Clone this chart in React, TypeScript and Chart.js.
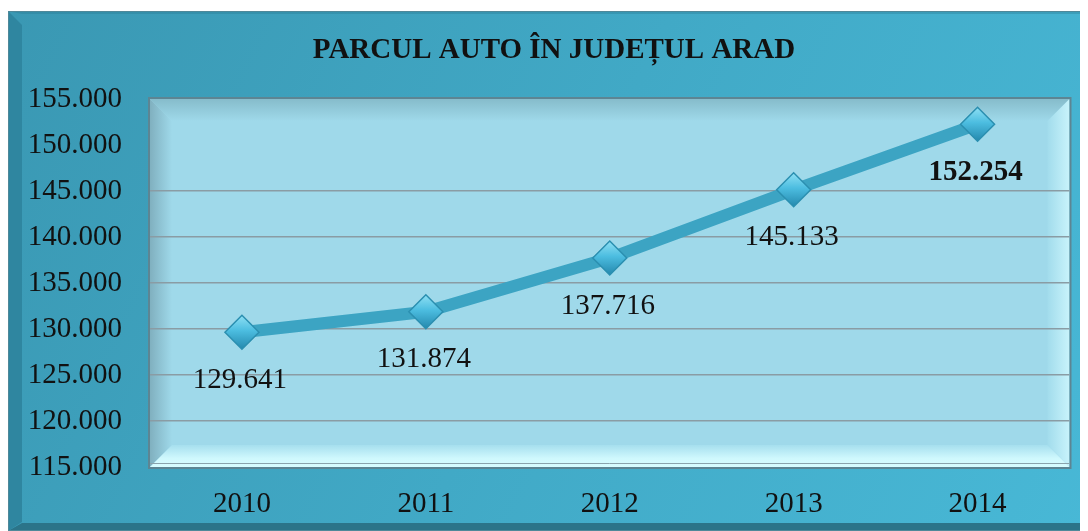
import React, { useEffect, useRef } from "react";
import { Chart, registerables } from "chart.js";

Chart.register(...registerables);

const TITLE = "PARCUL AUTO ÎN JUDEȚUL ARAD";
const YEARS = ["2010", "2011", "2012", "2013", "2014"];
const VEHICLES = [129641, 131874, 137716, 145133, 152254];
const Y_MIN = 115000;
const Y_MAX = 155000;
const Y_STEP = 5000;
const HIDDEN_GRID = [115000, 150000, 155000];

const FONT = "'Liberation Serif', 'Times New Roman', serif";

function fmt(v: number): string {
  const s = Math.round(v).toString();
  return s.replace(/\B(?=(\d{3})+(?!\d))/g, ".");
}

const backgroundPlugin = {
  id: "bgFrame",
  beforeDraw(chart: any) {
    const { ctx, width, height, chartArea } = chart;
    ctx.save();
    ctx.fillStyle = "#ffffff";
    ctx.fillRect(0, 0, width, height);
    const top = 3;
    const g = ctx.createLinearGradient(0, 0, width, height);
    g.addColorStop(0, "#3a98b3");
    g.addColorStop(0.5, "#41a9c6");
    g.addColorStop(1, "#48b8d6");
    ctx.fillStyle = g;
    ctx.fillRect(0, top, width, height - top);
    ctx.fillStyle = "#2f86a0";
    ctx.beginPath();
    ctx.moveTo(0, top);
    ctx.lineTo(14, top + 14);
    ctx.lineTo(14, height - 9);
    ctx.lineTo(0, height);
    ctx.closePath();
    ctx.fill();
    ctx.fillStyle = "rgba(40,120,145,0.35)";
    ctx.beginPath();
    ctx.moveTo(0, top);
    ctx.lineTo(width, top);
    ctx.lineTo(width - 5, top + 3);
    ctx.lineTo(14, top + 3);
    ctx.closePath();
    ctx.fill();
    ctx.fillStyle = "#2b7489";
    ctx.beginPath();
    ctx.moveTo(0, height);
    ctx.lineTo(14, height - 8);
    ctx.lineTo(width - 5, height - 8);
    ctx.lineTo(width, height);
    ctx.closePath();
    ctx.fill();
    ctx.beginPath();
    ctx.moveTo(width, top);
    ctx.lineTo(width - 5, top + 3);
    ctx.lineTo(width - 5, height - 8);
    ctx.lineTo(width, height);
    ctx.closePath();
    ctx.fill();
    ctx.strokeStyle = "#4f8899";
    ctx.lineWidth = 1;
    ctx.strokeRect(0.5, top + 0.5, width - 1, height - top - 1);

    const L = chartArea.left, R = chartArea.right, T = chartArea.top, B = chartArea.bottom;
    const b = 22;
    ctx.fillStyle = "#9fd9ea";
    ctx.fillRect(L, T, R - L, B - T);
    let gg = ctx.createLinearGradient(0, T, 0, T + b);
    gg.addColorStop(0, "#86bccb");
    gg.addColorStop(1, "#9fd9ea");
    ctx.fillStyle = gg;
    ctx.beginPath();
    ctx.moveTo(L, T); ctx.lineTo(R, T); ctx.lineTo(R - b, T + b); ctx.lineTo(L + b, T + b);
    ctx.closePath(); ctx.fill();
    gg = ctx.createLinearGradient(L, 0, L + b, 0);
    gg.addColorStop(0, "#80b0bf");
    gg.addColorStop(1, "#9fd9ea");
    ctx.fillStyle = gg;
    ctx.beginPath();
    ctx.moveTo(L, T); ctx.lineTo(L + b, T + b); ctx.lineTo(L + b, B - b); ctx.lineTo(L, B);
    ctx.closePath(); ctx.fill();
    gg = ctx.createLinearGradient(0, B - b, 0, B);
    gg.addColorStop(0, "#a6dfee");
    gg.addColorStop(0.6, "#cff8fd");
    gg.addColorStop(1, "#d8fdff");
    ctx.fillStyle = gg;
    ctx.beginPath();
    ctx.moveTo(L, B); ctx.lineTo(L + b, B - b); ctx.lineTo(R - b, B - b); ctx.lineTo(R, B);
    ctx.closePath(); ctx.fill();
    gg = ctx.createLinearGradient(R - b, 0, R, 0);
    gg.addColorStop(0, "#a2dcec");
    gg.addColorStop(1, "#c8f3fb");
    ctx.fillStyle = gg;
    ctx.beginPath();
    ctx.moveTo(R, T); ctx.lineTo(R - b, T + b); ctx.lineTo(R - b, B - b); ctx.lineTo(R, B);
    ctx.closePath(); ctx.fill();
    ctx.strokeStyle = "#5d8593";
    ctx.lineWidth = 2;
    ctx.strokeRect(L - 1, T - 1, R - L + 2, B - T + 2);
    ctx.strokeStyle = "#8aa3ac";
    ctx.lineWidth = 1;
    ctx.beginPath();
    ctx.moveTo(L, B - 3.5); ctx.lineTo(R, B - 3.5);
    ctx.stroke();

    ctx.fillStyle = "#111111";
    ctx.font = `bold 29px ${FONT}`;
    ctx.textAlign = "center";
    ctx.textBaseline = "middle";
    ctx.fillText(TITLE, 546, 43);
    ctx.restore();
  },
};

const labelPlugin = {
  id: "valueLabels",
  afterDatasetsDraw(chart: any) {
    const { ctx } = chart;
    const meta = chart.getDatasetMeta(0);
    ctx.save();
    ctx.fillStyle = "#111111";
    ctx.textAlign = "center";
    ctx.textBaseline = "middle";
    meta.data.forEach((pt: any, i: number) => {
      const last = i === meta.data.length - 1;
      ctx.font = `${last ? "bold " : ""}29px ${FONT}`;
      ctx.fillText(fmt(VEHICLES[i]), pt.x - 2, pt.y + 48);
    });
    ctx.restore();
  },
};

function pointFill(c: any) {
  const chart = c.chart;
  if (c.dataIndex === undefined || !chart.scales || !chart.scales.y) return "#40b0d2";
  const y = chart.scales.y.getPixelForValue(VEHICLES[c.dataIndex]);
  if (!Number.isFinite(y)) return "#40b0d2";
  const g = chart.ctx.createLinearGradient(0, y - 17, 0, y + 17);
  g.addColorStop(0, "#8ee0f4");
  g.addColorStop(0.45, "#4cbde0");
  g.addColorStop(1, "#2488ad");
  return g;
}

export default function App() {
  const ref = useRef<HTMLCanvasElement | null>(null);
  useEffect(() => {
    if (!ref.current) return;
    const chart = new Chart(ref.current, {
      type: "line",
      data: {
        labels: YEARS,
        datasets: [
          {
            data: VEHICLES,
            borderColor: "#3ca4c3",
            borderWidth: 12,
            tension: 0,
            pointStyle: "rectRot",
            pointRadius: 17,
            pointHoverRadius: 17,
            pointBackgroundColor: pointFill,
            pointBorderColor: "#2b8fb0",
            pointBorderWidth: 1.5,
          },
        ],
      },
      options: {
        animation: false,
        responsive: false,
        maintainAspectRatio: false,
        layout: { padding: { left: 0, right: 18, top: 91, bottom: 0 } },
        plugins: {
          legend: { display: false },
          tooltip: { enabled: false },
          title: { display: false },
        },
        scales: {
          x: {
            offset: true,
            grid: { display: false, drawTicks: false },
            border: { display: false },
            ticks: {
              color: "#111111",
              font: { family: FONT, size: 29 },
              padding: 20,
            },
            afterFit(scale: any) {
              scale.height = 64;
            },
          },
          y: {
            min: Y_MIN,
            max: Y_MAX,
            grid: {
              drawTicks: false,
              color: (c: any) =>
                c.tick && HIDDEN_GRID.includes(c.tick.value) ? "rgba(0,0,0,0)" : "#8a9ca4",
              lineWidth: 1.5,
            },
            border: { display: false },
            ticks: {
              stepSize: Y_STEP,
              color: "#111111",
              font: { family: FONT, size: 29 },
              padding: 28,
              callback: (v: any) => fmt(Number(v)),
            },
            afterFit(scale: any) {
              scale.width = 142;
            },
          },
        },
      },
      plugins: [backgroundPlugin, labelPlugin],
    } as any);
    return () => chart.destroy();
  }, []);
  return (
    <canvas
      ref={ref}
      width={1080}
      height={523}
      style={{ display: "block", width: 1080, height: 523 }}
    />
  );
}
